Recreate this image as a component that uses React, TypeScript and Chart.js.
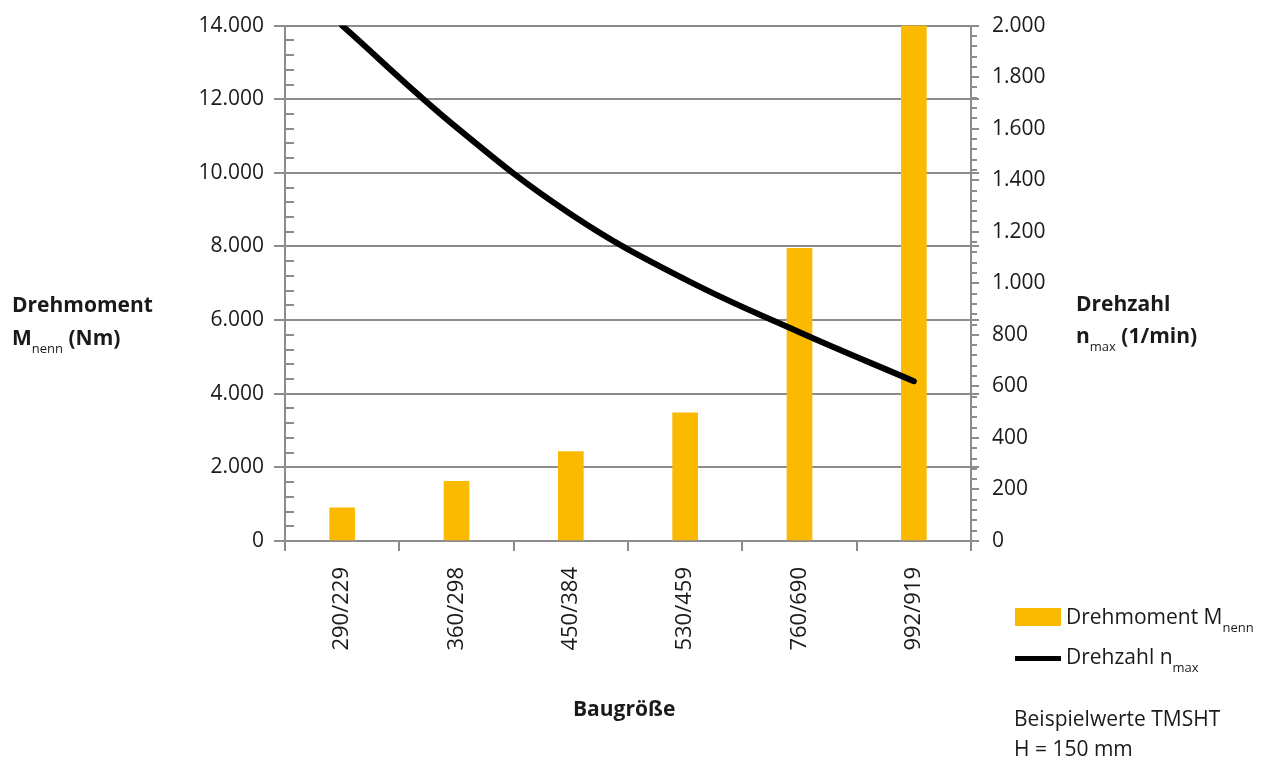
import React, { useEffect, useRef } from 'react';
import { Chart, registerables } from 'chart.js';

Chart.register(...registerables);

const categories = ['290/229', '360/298', '450/384', '530/459', '760/690', '992/919'];
const torqueValues = [900, 1620, 2430, 3480, 7950, 14000];
const speedValues = [2000, 1605, 1268, 1015, 810, 620];
const leftTicks = [0, 2000, 4000, 6000, 8000, 10000, 12000, 14000];
const rightTicks = [0, 200, 400, 600, 800, 1000, 1200, 1400, 1600, 1800, 2000];

const GRID = '#8c8c8c';
const TEXT = '#1a1a1a';
const BAR = '#FBB900';
const FONT = "'Open Sans', sans-serif";

function fmt(v: number): string {
  return String(v).replace(/\B(?=(\d{3})+(?!\d))/g, '.');
}

const minorTicksPlugin = {
  id: 'minorTicks',
  afterDraw(chart: any) {
    const ctx = chart.ctx;
    const yL = chart.scales.y;
    const yR = chart.scales.y1;
    const area = chart.chartArea;
    ctx.save();
    ctx.strokeStyle = GRID;
    ctx.lineWidth = 2;
    ctx.beginPath();
    for (let v = 400; v < 14000; v += 400) {
      if (v % 2000 === 0) continue;
      const y = Math.round(yL.getPixelForValue(v));
      ctx.moveTo(area.left, y);
      ctx.lineTo(area.left + 9, y);
    }
    for (let v = 40; v < 2000; v += 40) {
      if (v % 200 === 0) continue;
      const y = Math.round(yR.getPixelForValue(v));
      ctx.moveTo(area.right, y);
      ctx.lineTo(area.right + 6, y);
    }
    for (const v of leftTicks) {
      const y = Math.round(yL.getPixelForValue(v));
      ctx.moveTo(area.right, y);
      ctx.lineTo(area.right + 8, y);
    }
    ctx.stroke();
    ctx.restore();
  },
};

const txt: React.CSSProperties = {
  position: 'absolute',
  fontFamily: FONT,
  fontSize: 21,
  lineHeight: '21px',
  color: TEXT,
  whiteSpace: 'nowrap',
  margin: 0,
};

const sub: React.CSSProperties = {
  fontSize: 13,
  position: 'relative',
  top: 8,
  fontWeight: 400,
};

export default function App() {
  const canvasRef = useRef<HTMLCanvasElement | null>(null);

  useEffect(() => {
    document.body.style.margin = '0';
    const canvas = canvasRef.current;
    if (!canvas) return;
    const chart = new Chart(canvas, {
      type: 'bar',
      data: {
        labels: categories,
        datasets: [
          {
            type: 'line',
            label: 'Drehzahl',
            data: speedValues,
            yAxisID: 'y1',
            borderColor: '#000000',
            borderWidth: 6,
            borderCapStyle: 'round',
            borderJoinStyle: 'round',
            pointRadius: 0,
            tension: 0.4,
            fill: false,
            order: 0,
          } as any,
          {
            type: 'bar',
            label: 'Drehmoment',
            data: torqueValues,
            yAxisID: 'y',
            backgroundColor: BAR,
            barThickness: 25,
            order: 1,
          } as any,
        ],
      },
      options: {
        animation: false,
        responsive: true,
        maintainAspectRatio: false,
        layout: { padding: { top: 25, left: 0, right: 0, bottom: 0 } },
        plugins: {
          legend: { display: false },
          tooltip: { enabled: false },
        },
        scales: {
          x: {
            type: 'category',
            offset: true,
            grid: {
              offset: true,
              drawOnChartArea: false,
              color: GRID,
              lineWidth: 2,
              tickLength: 10,
            },
            border: { color: GRID, width: 2 },
            ticks: {
              minRotation: 90,
              maxRotation: 90,
              autoSkip: false,
              padding: 16,
              color: TEXT,
              font: { family: FONT, size: 22 },
            },
            afterFit: (s: any) => {
              s.height = 219;
            },
          },
          y: {
            position: 'left',
            min: 0,
            max: 14000,
            afterBuildTicks: (s: any) => {
              s.ticks = leftTicks.map((v) => ({ value: v }));
            },
            ticks: {
              padding: 10,
              color: TEXT,
              font: { family: FONT, size: 21 },
              callback: (v: any) => fmt(Number(v)),
            },
            grid: { color: GRID, lineWidth: 2, tickLength: 11 },
            border: { color: GRID, width: 2 },
            afterFit: (s: any) => {
              s.width = 285;
            },
          },
          y1: {
            position: 'right',
            min: 0,
            max: 2000,
            afterBuildTicks: (s: any) => {
              s.ticks = rightTicks.map((v) => ({ value: v }));
            },
            ticks: {
              padding: 13,
              color: TEXT,
              font: { family: FONT, size: 21 },
              callback: (v: any) => fmt(Number(v)),
            },
            grid: { drawOnChartArea: false, color: GRID, lineWidth: 2, tickLength: 8 },
            border: { color: GRID, width: 2 },
            afterFit: (s: any) => {
              s.width = 297;
            },
          },
        },
      } as any,
      plugins: [minorTicksPlugin],
    });
    return () => chart.destroy();
  }, []);

  return (
    <div style={{ position: 'absolute', left: 0, top: 0, width: 1268, height: 760, background: '#fff', overflow: 'hidden' }}>
      <div style={{ position: 'absolute', left: 0, top: 0, width: 1268, height: 760 }}>
        <canvas ref={canvasRef} />
      </div>

      <div style={{ ...txt, left: 12, top: 294, fontWeight: 700 }}>Drehmoment</div>
      <div style={{ ...txt, left: 12, top: 327, fontWeight: 700 }}>
        M<span style={sub}>nenn</span> (Nm)
      </div>

      <div style={{ ...txt, left: 1076, top: 293, fontWeight: 700 }}>Drehzahl</div>
      <div style={{ ...txt, left: 1076, top: 325, fontWeight: 700 }}>
        n<span style={sub}>max</span> (1/min)
      </div>

      <div style={{ ...txt, left: 573, top: 698, fontWeight: 700 }}>Baugröße</div>

      <div style={{ position: 'absolute', left: 1015, top: 608, width: 46, height: 18, background: BAR }} />
      <div style={{ ...txt, left: 1066, top: 606 }}>
        Drehmoment M<span style={sub}>nenn</span>
      </div>

      <div style={{ position: 'absolute', left: 1015, top: 656, width: 46, height: 5, background: '#000' }} />
      <div style={{ ...txt, left: 1066, top: 646 }}>
        Drehzahl n<span style={sub}>max</span>
      </div>

      <div style={{ ...txt, left: 1014, top: 708 }}>Beispielwerte TMSHT</div>
      <div style={{ ...txt, left: 1014, top: 738 }}>H = 150 mm</div>
    </div>
  );
}
